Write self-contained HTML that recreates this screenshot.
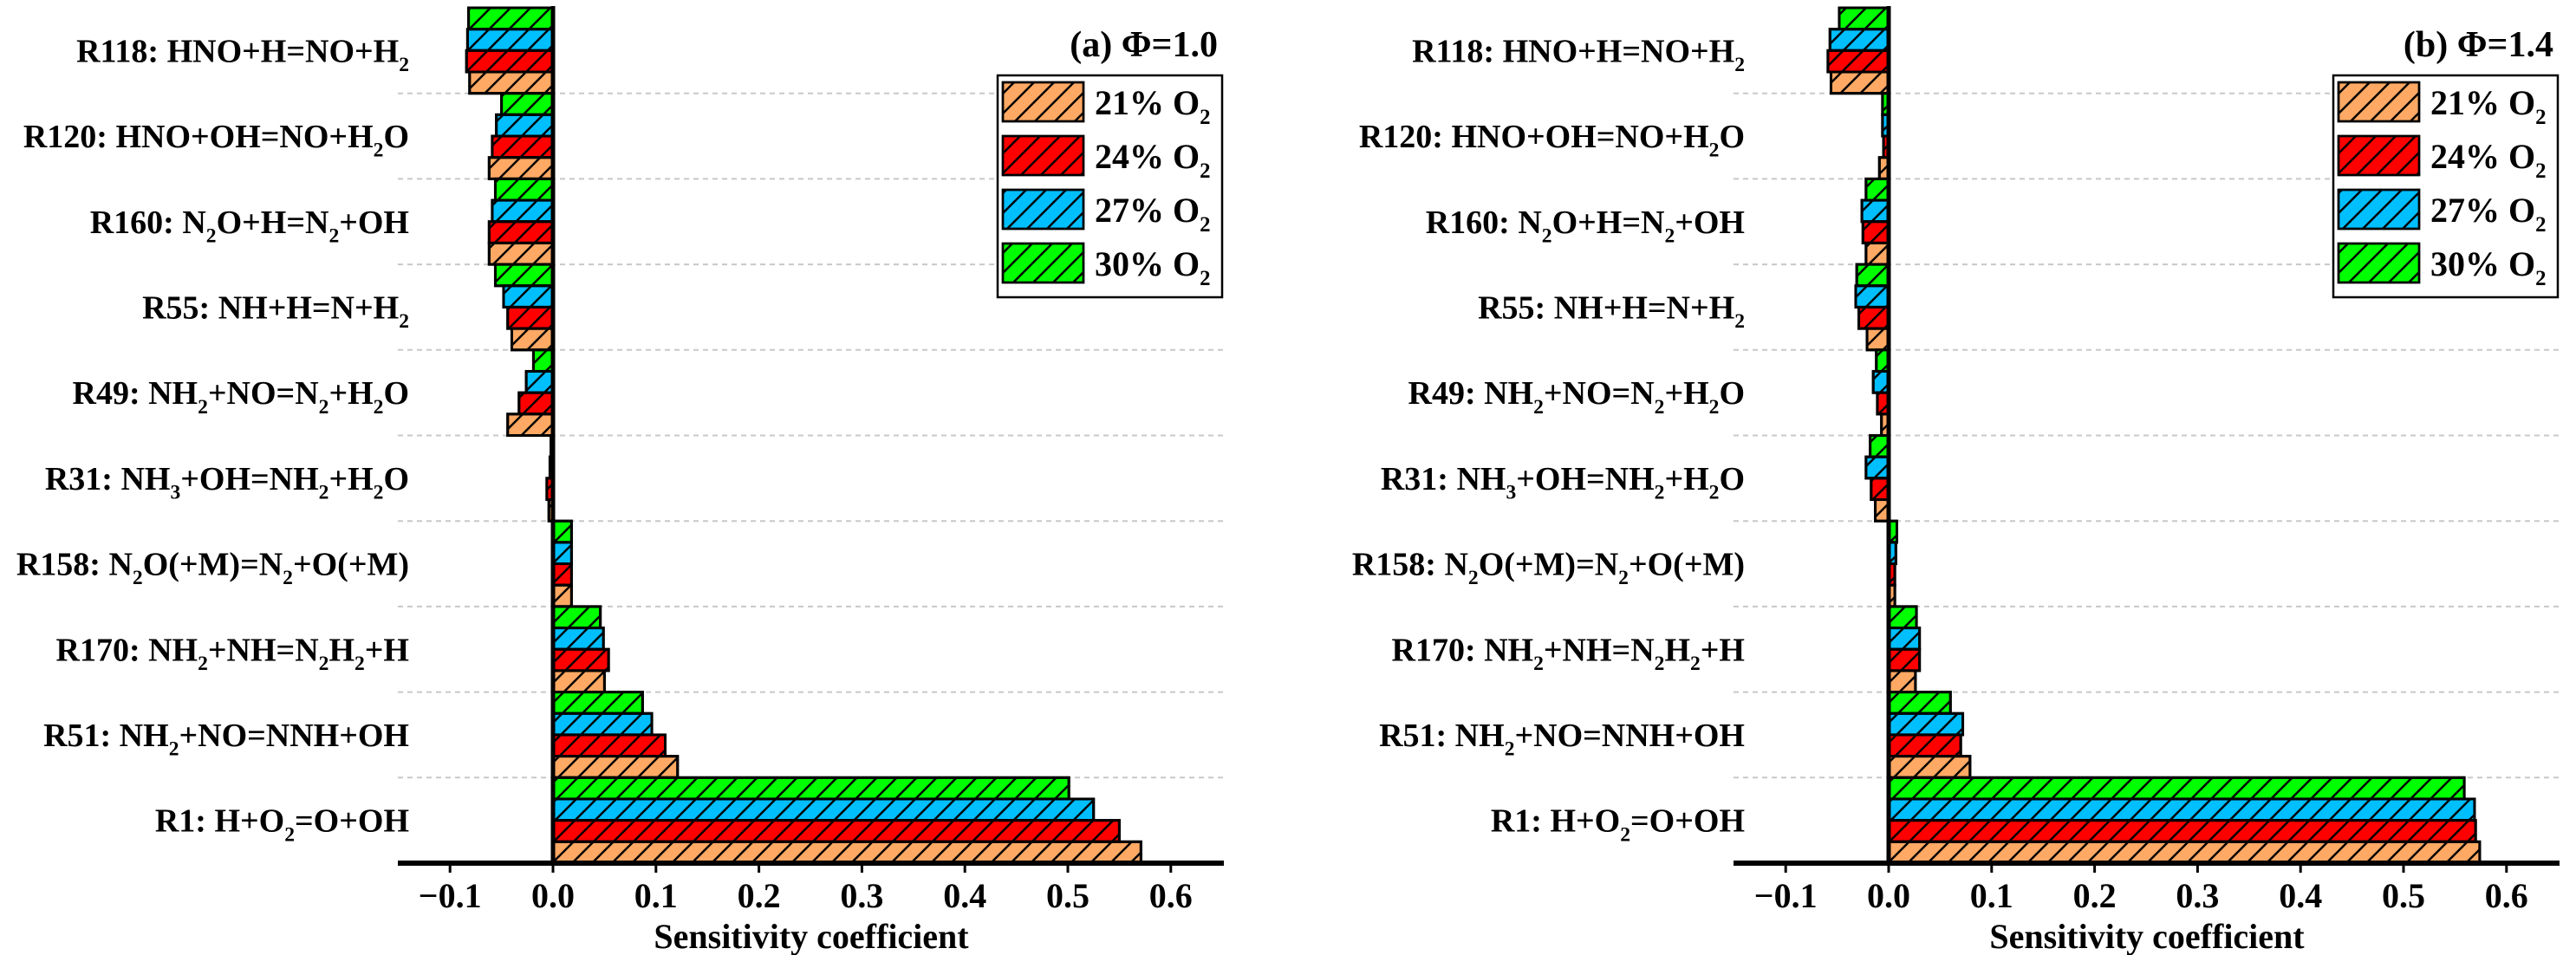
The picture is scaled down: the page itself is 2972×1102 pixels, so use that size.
<!DOCTYPE html>
<html><head><meta charset="utf-8">
<style>
html,body{margin:0;padding:0;background:#fff;}
svg{display:block;font-family:"Liberation Serif","Times New Roman",serif;font-weight:bold;}
</style></head>
<body>
<svg id="chart" width="2972" height="1102" viewBox="0 0 2972 1102" xmlns="http://www.w3.org/2000/svg">
<defs>
<pattern id="hatch" patternUnits="userSpaceOnUse" width="23" height="23">
<path d="M-2,25 L25,-2 M-25,25 L2,-2 M21,25 L48,-2" stroke="#000" stroke-width="2.5"/>
</pattern>
</defs>
</svg>
<script>
const reactions = ["R118: HNO+H=NO+H_2","R120: HNO+OH=NO+H_2O","R160: N_2O+H=N_2+OH","R55: NH+H=N+H_2","R49: NH_2+NO=N_2+H_2O","R31: NH_3+OH=NH_2+H_2O","R158: N_2O(+M)=N_2+O(+M)","R170: NH_2+NH=N_2H_2+H","R51: NH_2+NO=NNH+OH","R1: H+O_2=O+OH"];
const seriesNames = ["30% O2","27% O2","24% O2","21% O2"];
const legendNames = ["21% O_2","24% O_2","27% O_2","30% O_2"];
const ticks = [-0.1,0,0.1,0.2,0.3,0.4,0.5,0.6];
const tickLabels = ["\u22120.1","0.0","0.1","0.2","0.3","0.4","0.5","0.6"];
// panel a (phi=1.0)
const a30 = [-0.082,-0.050,-0.056,-0.056,-0.019,-0.002,0.018,0.046,0.087,0.501];
const a27 = [-0.083,-0.055,-0.059,-0.048,-0.026,-0.003,0.018,0.049,0.096,0.525];
const a24 = [-0.084,-0.059,-0.062,-0.044,-0.033,-0.006,0.018,0.054,0.109,0.550];
const a21 = [-0.081,-0.062,-0.062,-0.040,-0.044,-0.004,0.018,0.050,0.121,0.571];
// panel b (phi=1.4)
const b30 = [-0.048,-0.006,-0.022,-0.031,-0.012,-0.018,0.008,0.027,0.060,0.559];
const b27 = [-0.057,-0.006,-0.026,-0.032,-0.015,-0.022,0.007,0.030,0.072,0.569];
const b24 = [-0.059,-0.005,-0.025,-0.029,-0.011,-0.017,0.006,0.030,0.070,0.570];
const b21 = [-0.056,-0.009,-0.022,-0.021,-0.007,-0.013,0.006,0.026,0.079,0.574];

const colors = ["#00FF00","#00BFFF","#FF0000","#FFA964"];
const legendColors = ["#FFA964","#FF0000","#00BFFF","#00FF00"];
const NS = "http://www.w3.org/2000/svg";
const svg = document.getElementById('chart');

function mk(tag, attrs, parent){
  const e = document.createElementNS(NS, tag);
  for (const k in attrs) e.setAttribute(k, attrs[k]);
  (parent||svg).appendChild(e);
  return e;
}
function richText(el, str, size){
  const parts = str.split(/(_\d)/);
  let sub = false;
  parts.forEach(p=>{
    if(!p) return;
    const t = document.createElementNS(NS,'tspan');
    if(p[0]==='_'){
      t.textContent = p.slice(1);
      t.setAttribute('font-size', size*0.62);
      t.setAttribute('dy', size*0.28);
      sub = true;
    } else {
      t.textContent = p;
      if(sub){ t.setAttribute('dy', -size*0.28); sub=false; }
    }
    el.appendChild(t);
  });
}

function panel(ox, series, title, key){
  const zeroX = 638 + ox, unit = 1188;
  const xs = v => zeroX + v*unit;
  const top = 9, groupH = 98.7, barH = groupH/4;
  const axisY = 996, left = 459 + ox, right = 1412 + ox;
  const g = mk('g', {});
  
  
  for(let i=1;i<reactions.length;i++){
    const y = top + i*groupH;
    const l = mk('line',{x1:left,x2:right,y1:y,y2:y,stroke:'#c8c8c8','stroke-width':2,'stroke-dasharray':'6,5'},g);
    
    
  }
  reactions.forEach((r,i)=>{
    series.forEach((s,j)=>{
      const v = s[i];
      const y = top + i*groupH + j*barH;
      const x0 = Math.min(xs(0), xs(v)), w = Math.abs(xs(v)-xs(0));
      const rect = mk('rect',{x:x0,y:y,width:w,height:barH,fill:colors[j],stroke:'#000','stroke-width':3},g);
      
      
      const h = mk('rect',{x:x0,y:y,width:w,height:barH,fill:'url(#hatch)',stroke:'#000','stroke-width':3},g);
      
      
    });
    const t = mk('text',{x:472+ox,y:top+i*groupH+groupH/2+13,'font-size':38,'text-anchor':'end'},g);
    
    
    richText(t, r, 38);
  });
  const zl = mk('line',{x1:zeroX,x2:zeroX,y1:7,y2:axisY,stroke:'#000','stroke-width':5},g);
  
  
  const ax = mk('line',{x1:left,x2:right,y1:axisY,y2:axisY,stroke:'#000','stroke-width':6},g);
  
  
  ticks.forEach((tv,k)=>{
    const tk = mk('line',{x1:xs(tv),x2:xs(tv),y1:axisY,y2:axisY+11,stroke:'#000','stroke-width':3},g);
    
    
    const tl = mk('text',{x:xs(tv),y:1047,'font-size':40,'text-anchor':'middle'},g);
    tl.textContent = tickLabels[k];
    
    
  });
  const xt = mk('text',{x:936+ox,y:1094,'font-size':40,'text-anchor':'middle'},g);
  xt.textContent = 'Sensitivity coefficient';
  
  
  const tt = mk('text',{x:1405+ox,y:65,'font-size':42,'text-anchor':'end'},g);
  tt.textContent = title;
  
  
  const lg = mk('g',{},g);
  
  
  const lb = mk('rect',{x:1151+ox,y:87,width:259,height:256,fill:'#fff',stroke:'#000','stroke-width':2.5},lg);
  
  
  legendNames.forEach((n,k)=>{
    const y = 95 + k*62;
    const sw = mk('rect',{x:1157+ox,y:y,width:93,height:45,fill:legendColors[k],stroke:'#000','stroke-width':2.5},lg);
    
    
    const sh = mk('rect',{x:1157+ox,y:y,width:93,height:45,fill:'url(#hatch)',stroke:'#000','stroke-width':2.5},lg);
    
    
    const lt = mk('text',{x:1263+ox,y:y+37,'font-size':40},lg);
    
    
    richText(lt, n, 40);
  });
}
panel(0,[a30,a27,a24,a21],'(a) \u03A6=1.0','a');
panel(1541,[b30,b27,b24,b21],'(b) \u03A6=1.4','b');
</script>
</body></html>
